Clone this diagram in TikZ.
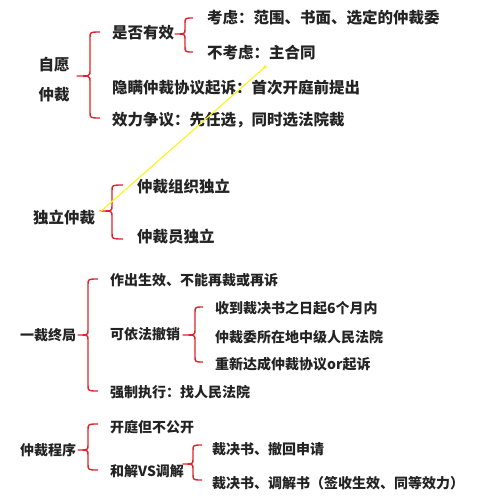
\documentclass[tikz,border=0pt]{standalone}
\usepackage{fontspec}
\newfontfamily\cjk{Noto Sans CJK SC}
\definecolor{brred}{RGB}{225,35,45}
\definecolor{txt}{RGB}{35,35,35}
\definecolor{ylw}{RGB}{250,245,20}
\newcommand\cbr[6]{% tipx, vx, endx, top, mid, bottom
  \draw[brace] (#3,#4) .. controls (#2,#4) .. (#2,#4+6) -- (#2,#5-5)
    .. controls (#2,#5) .. (#1,#5) .. controls (#2,#5) .. (#2,#5+5)
    -- (#2,#6-6) .. controls (#2,#6) .. (#3,#6);}
\begin{document}
\begin{tikzpicture}[x=1pt,y=-1pt,
  brace/.style={draw=brred,line width=1.4pt,line join=round},
  big/.style={anchor=west,inner sep=0pt,text=txt,font=\cjk\bfseries\fontsize{15.5}{17}\selectfont},
  small/.style={anchor=west,inner sep=0pt,text=txt,font=\cjk\bfseries\fontsize{14}{16}\selectfont},
  yl/.style={draw=ylw,line width=1.1pt}]
\useasboundingbox (0,0) rectangle (499,500);
% section 1
\node[big,align=center,anchor=center] (zy) at (54,80) {自愿\\[13pt]仲裁};
\node[big] (sfyx) at (112,33) {是否有效};
\node[big] (kl) at (207,18) {考虑：范围、书面、选定的仲裁委};
\node[big] (bkl) at (207,53) {不考虑：主合同};
\node[big] (ym) at (112,88) {隐瞒仲裁协议起诉：首次开庭前提出};
\node[big] (xl) at (112,120) {效力争议：先任选，同时选法院裁};
\cbr{77}{90}{100}{32}{76}{118}
\cbr{175}{185}{193}{18}{34}{52}
% section 2
\node[big] (dl) at (33,217) {独立仲裁};
\node[big] (zz) at (137,187) {仲裁组织独立};
\node[big] (zcy) at (137,237) {仲裁员独立};
\cbr{100}{112}{123}{185}{211}{239}
% yellow line
\coordinate (ya) at (100,212);
\coordinate (yb) at (265,67);
\draw[yl] (ya) -- (yb);
\fill[ylw] (yb) circle (1.8);
% section 3
\node[small] (yczj) at (20,335) {一裁终局};
\node[small] (zcsx) at (110,280) {作出生效、不能再裁或再诉};
\node[small] (kyf) at (110,334) {可依法撤销};
\node[small] (sd) at (215,308) {收到裁决书之日起6个月内};
\node[small] (zcw) at (215,337) {仲裁委所在地中级人民法院};
\node[small] (cx) at (215,364) {重新达成仲裁协议or起诉};
\node[small] (qz) at (110,392) {强制执行：找人民法院};
\cbr{78}{88}{98}{279}{335}{391}
\cbr{183}{195}{203}{307}{335}{362}
% section 4
\node[small] (zccx) at (20,450) {仲裁程序};
\node[small] (kt) at (110,427) {开庭但不公开};
\node[small] (hj) at (110,471) {和解VS调解};
\node[small] (cj1) at (212,449) {裁决书、撤回申请};
\node[small] (cj2) at (212,483) {裁决书、调解书（签收生效、同等效力）};
\cbr{78}{88}{98}{424}{450}{470}
\cbr{183}{193}{202}{445}{464}{480}
\end{tikzpicture}
\end{document}
